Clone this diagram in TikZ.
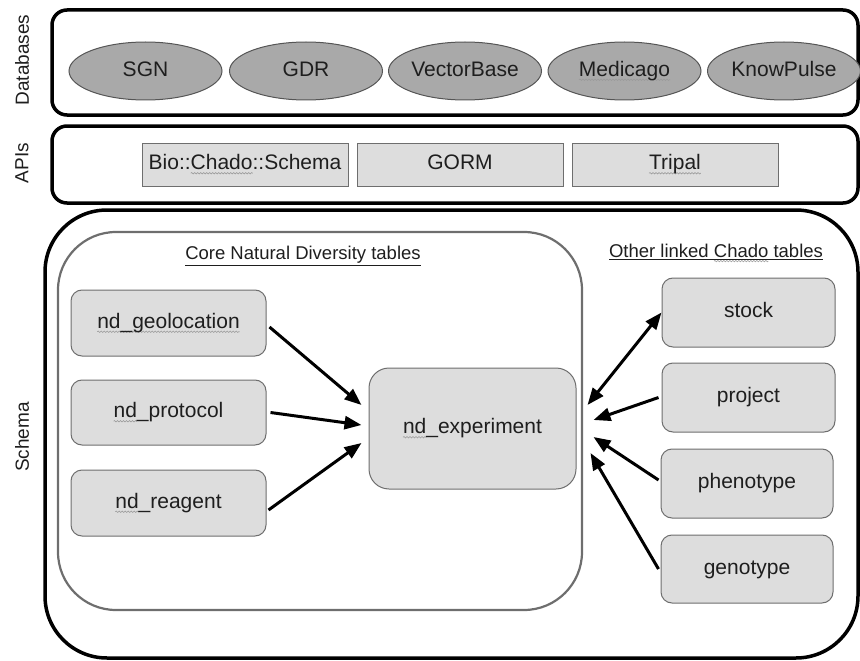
\documentclass[tikz,border=0pt]{standalone}
\usepackage{fontspec}
\setmainfont{Liberation Sans}
\usetikzlibrary{arrows.meta,shapes.geometric,decorations.pathmorphing}
\definecolor{boxfill}{HTML}{DDDDDD}
\definecolor{boxline}{HTML}{6E6E6E}
\definecolor{ellfill}{HTML}{A9A9A9}
\definecolor{ellline}{HTML}{555555}
\definecolor{txt}{HTML}{1E1E1E}
\definecolor{wavecol}{HTML}{9A9A9A}
\newbox\wavebox
\newdimen\wavewd
\newcommand\gwave[1]{\setbox\wavebox=\hbox{#1}\wavewd=\wd\wavebox\leavevmode\rlap{\tikz[overlay,baseline=0pt]{\draw[draw=wavecol, fill=none, sharp corners, line width=0.6pt, decorate, decoration={snake,amplitude=0.7pt,segment length=3pt}] (0pt,-3.5pt) -- (\wavewd,-3.5pt);}}\box\wavebox}
\tikzset{
  outerbox/.style={draw=black, line width=3.5pt, rounded corners=15pt, inner sep=0pt},
  dbell/.style={ellipse, draw=ellline, fill=ellfill, line width=1pt, minimum width=153pt, minimum height=58pt, inner sep=0pt, font=\fontsize{21}{24}\selectfont, text=txt, text height=15pt, text depth=4.5pt},
  apibox/.style={draw=boxline, fill=boxfill, line width=1pt, minimum width=206pt, minimum height=43pt, inner sep=0pt, font=\fontsize{21}{24}\selectfont, text=txt, text height=15pt, text depth=4.5pt},
  tbox/.style={draw=boxline, fill=boxfill, line width=1pt, rounded corners=11pt, inner sep=0pt, font=\fontsize{21}{24}\selectfont, text=txt, text height=15pt, text depth=4.5pt},
  sidelabel/.style={rotate=90, font=\fontsize{19}{22}\selectfont, text=txt},
  heading/.style={font=\fontsize{18.5}{22}\selectfont, text=txt},
  link/.style={line width=3pt, -{Triangle[length=17pt,width=13pt]}},
  biglink/.style={line width=3pt, {Triangle[length=17pt,width=13pt]}-{Triangle[length=17pt,width=13pt]}}
}
\begin{document}
\begin{tikzpicture}[x=1pt,y=-1pt]
\useasboundingbox (0,0) rectangle (860,661);
% containers
\node[outerbox, minimum width=806pt, minimum height=105pt] (db) at (455,62.5) {};
\node[outerbox, minimum width=806pt, minimum height=77pt] (api) at (455,164.5) {};
\node[outerbox, rounded corners=62pt, minimum width=813pt, minimum height=448pt] (schema) at (451.5,434) {};
\node[draw=boxline, line width=2.2pt, rounded corners=58pt, minimum width=524pt, minimum height=378pt, inner sep=0pt] (core) at (320,421) {};
% side labels
\node[sidelabel] (ldb) at (22,60) {Databases};
\node[sidelabel] (lapi) at (22,163) {APIs};
\node[sidelabel] (lsch) at (22,437) {Schema};
% databases
\node[dbell] (sgn) at (145.5,71) {SGN};
\node[dbell] (gdr) at (306,71) {GDR};
\node[dbell] (vb) at (465,71) {VectorBase};
\node[dbell] (med) at (624.5,71) {\gwave{Medicago}};
\node[dbell] (kp) at (784,71) {KnowPulse};
% APIs
\node[apibox] (bio) at (245,164.5) {Bio::\gwave{Chado}::Schema};
\node[apibox] (gorm) at (460,164.5) {GORM};
\node[apibox] (tripal) at (675,164.5) {\gwave{Tripal}};
% headings
\node[heading] (hcore) at (303,256) {\underline{Core Natural Diversity tables}};
\node[heading] (hother) at (716,252) {\underline{\hbox{Other linked \gwave{Chado} tables}}};
% tables
\node[tbox, minimum width=195pt, minimum height=66pt] (geo) at (168.5,323) {\gwave{nd\_geolocation}};
\node[tbox, minimum width=195pt, minimum height=65pt] (prot) at (168.5,412.5) {\gwave{nd}\_protocol};
\node[tbox, minimum width=195pt, minimum height=66pt] (reag) at (168.5,503) {\gwave{nd}\_reagent};
\node[tbox, rounded corners=20pt, minimum width=207pt, minimum height=121pt] (exp) at (472.5,428.5) {\gwave{nd}\_experiment};
\node[tbox, minimum width=173pt, minimum height=69pt] (stock) at (748.5,312.5) {stock};
\node[tbox, minimum width=173pt, minimum height=69pt] (proj) at (748.5,397.5) {project};
\node[tbox, minimum width=172pt, minimum height=69pt] (pheno) at (747,483.5) {phenotype};
\node[tbox, minimum width=172pt, minimum height=68pt] (geno) at (747,569) {genotype};
% connectors
\draw[link] ([shift={(3pt,-4pt)}]geo.east) -- ([shift={(-7pt,23.5pt)}]exp.west);
\draw[link] ([shift={(4pt,0pt)}]prot.east) -- ([shift={(-7pt,3.5pt)}]exp.west);
\draw[link] ([shift={(2pt,-7pt)}]reag.east) -- ([shift={(-7pt,-14.5pt)}]exp.west);
\draw[biglink] (stock.west) -- ([shift={(11pt,23.5pt)}]exp.east);
\draw[link] ([shift={(-3pt,0pt)}]proj.west) -- ([shift={(17pt,8.5pt)}]exp.east);
\draw[link] ([shift={(-2pt,3.5pt)}]pheno.west) -- ([shift={(17pt,-8.5pt)}]exp.east);
\draw[link] ([shift={(-2pt,0pt)}]geno.west) -- ([shift={(14pt,-24.5pt)}]exp.east);
\end{tikzpicture}
\end{document}
